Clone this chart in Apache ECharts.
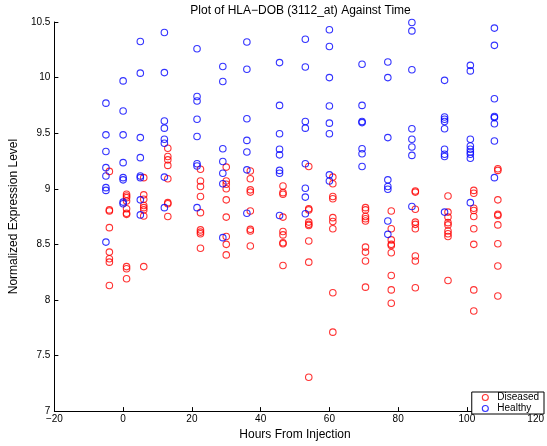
<!DOCTYPE html>
<html>
<head>
<meta charset="utf-8">
<script src="https://cdn.jsdelivr.net/npm/echarts@6/dist/echarts.min.js"></script>
<style>
  html, body { margin: 0; padding: 0; background: #fff; }
  #chart { width: 547px; height: 446px; }
</style>
</head>
<body>
<div id="chart"></div>
<script>
// hours of each sampling column (diseased drawn one hour to the right)
var healthyHours = [-5, 0, 5, 12, 21.5, 29, 36, 45.5, 53, 60, 69.5, 77, 84, 93.5, 101, 108]
var diseasedHours = [-4, 1, 6, 13, 22.5, 30, 37, 46.5, 54, 61, 70.5, 78, 85, 94.5, 102, 109]

// expression levels per column
var healthyLevels = [
  [9.77, 9.485, 9.335, 9.19, 9.115, 9.01, 8.985, 8.52],
  [9.97, 9.70, 9.485, 9.235, 9.10, 9.08, 8.88, 8.865],
  [10.325, 10.04, 9.46, 9.28, 9.115, 9.10, 8.90, 8.765],
  [10.405, 10.045, 9.61, 9.545, 9.445, 9.41, 9.105, 8.83],
  [10.26, 9.83, 9.79, 9.625, 9.47, 9.225, 9.205, 8.83],
  [10.10, 9.965, 9.36, 9.245, 9.14, 9.045, 8.56],
  [10.32, 10.075, 9.63, 9.435, 9.33, 9.17, 8.78],
  [10.135, 9.75, 9.495, 9.355, 9.305, 9.165, 9.14, 8.76],
  [10.345, 10.095, 9.605, 9.545, 9.225, 9.005, 8.925, 8.775],
  [10.43, 10.28, 10.0, 9.745, 9.59, 9.495, 9.125, 9.07],
  [10.12, 9.75, 9.605, 9.595, 9.36, 9.315, 9.20],
  [10.14, 10.0, 9.46, 9.08, 9.02, 8.995, 8.71, 8.59],
  [10.495, 10.42, 10.07, 9.54, 9.445, 9.375, 9.30, 8.84],
  [9.975, 9.645, 9.625, 9.605, 9.54, 9.355, 9.31, 9.29, 8.79],
  [10.11, 10.06, 9.445, 9.385, 9.355, 9.33, 9.31, 9.275, 8.875],
  [10.445, 10.29, 9.81, 9.65, 9.64, 9.585, 9.43, 9.10]
]
var diseasedLevels = [
  [9.156, 8.81, 8.80, 8.65, 8.43, 8.37, 8.34, 8.13],
  [8.95, 8.935, 8.92, 8.89, 8.82, 8.78, 8.77, 8.30, 8.28, 8.19],
  [9.10, 8.945, 8.905, 8.85, 8.83, 8.81, 8.755, 8.30],
  [9.365, 9.29, 9.26, 9.21, 9.09, 8.875, 8.865, 8.75],
  [9.175, 9.07, 9.02, 8.93, 8.785, 8.63, 8.61, 8.595, 8.465],
  [9.195, 9.07, 9.04, 9.0, 8.90, 8.745, 8.57, 8.50, 8.405],
  [9.16, 9.09, 8.99, 8.97, 8.80, 8.635, 8.62, 8.485],
  [9.025, 8.965, 8.95, 8.745, 8.615, 8.585, 8.515, 8.505, 8.31],
  [9.20, 8.82, 8.81, 8.70, 8.68, 8.67, 8.53, 8.34, 7.305],
  [9.105, 9.045, 8.93, 8.91, 8.74, 8.705, 8.64, 8.065, 7.71],
  [8.83, 8.81, 8.75, 8.73, 8.71, 8.475, 8.43, 8.35, 8.115],
  [8.80, 8.64, 8.54, 8.50, 8.49, 8.425, 8.22, 8.09, 7.97],
  [8.98, 8.97, 8.815, 8.70, 8.68, 8.64, 8.395, 8.35, 8.11],
  [8.935, 8.79, 8.745, 8.695, 8.675, 8.62, 8.595, 8.57, 8.175],
  [8.985, 8.96, 8.825, 8.805, 8.75, 8.64, 8.50, 8.09, 7.90],
  [9.18, 9.165, 8.90, 8.77, 8.76, 8.675, 8.505, 8.305, 8.035]
]

var font = 'Liberation Sans, Arial, Helvetica, sans-serif'

function toPoints(hours, levels) {
  var pts = []
  hours.forEach(function (h, i) {
    levels[i].forEach(function (v) { pts.push([h, v]) })
  })
  return pts
}

function yLabel(v) {
  return String(Math.round(v * 10) / 10)
}

// open circle marker, thin outline like the original
function ring(color) {
  return { color: 'rgba(255,255,255,0)', borderColor: color, borderWidth: 1.1 }
}

var chart = echarts.init(document.getElementById('chart'))
chart.setOption({
  backgroundColor: '#fff',
  animation: false,
  title: {
    text: 'Plot of HLA\u2212DOB (3112_at) Against Time',
    left: 295.5,
    textAlign: 'center',
    top: 0,
    textStyle: { fontFamily: font, fontSize: 12, fontWeight: 'normal', color: '#000' }
  },
  grid: { left: 47, right: 3, top: 22, bottom: 27, containLabel: false },
  legend: {
    data: ['Diseased', 'Healthy'],
    orient: 'vertical',
    right: 3,
    bottom: 32,
    itemWidth: 14,
    itemHeight: 6,
    itemGap: 0,
    padding: [0, 5, 0, 10],
    backgroundColor: '#fff',
    borderColor: '#000',
    borderWidth: 1,
    borderRadius: 0,
    itemStyle: { borderWidth: 1.1 },
    textStyle: { fontFamily: font, fontSize: 10, lineHeight: 11, color: '#000' }
  },
  xAxis: {
    type: 'value',
    min: -20,
    max: 120,
    interval: 20,
    name: 'Hours From Injection',
    nameLocation: 'middle',
    nameGap: 13,
    nameTextStyle: { fontFamily: font, fontSize: 12, color: '#000' },
    axisLine: { onZero: false, lineStyle: { color: '#000', width: 1 } },
    axisTick: { inside: true, length: 4, lineStyle: { color: '#000' } },
    axisLabel: {
      fontFamily: font, fontSize: 10, color: '#000', margin: 3,
      formatter: function (v) { return String(v).replace('-', '\u2212') }
    },
    splitLine: { show: false }
  },
  yAxis: {
    type: 'value',
    min: 7,
    max: 10.5,
    interval: 0.5,
    name: 'Normalized Expression Level',
    nameLocation: 'middle',
    nameGap: 27,
    nameTextStyle: { fontFamily: font, fontSize: 12, color: '#000' },
    axisLine: { show: true, onZero: false, lineStyle: { color: '#000', width: 1 } },
    axisTick: { show: true, inside: true, length: 4, lineStyle: { color: '#000' } },
    axisLabel: { fontFamily: font, fontSize: 10, color: '#000', margin: 4, formatter: yLabel },
    splitLine: { show: false }
  },
  series: [
    {
      name: 'Diseased',
      type: 'scatter',
      symbol: 'circle',
      symbolSize: 6.5,
      itemStyle: ring('#ff0000'),
      data: toPoints(diseasedHours, diseasedLevels)
    },
    {
      name: 'Healthy',
      type: 'scatter',
      symbol: 'circle',
      symbolSize: 6.5,
      itemStyle: ring('#0000ff'),
      data: toPoints(healthyHours, healthyLevels)
    }
  ]
})
</script>
</body>
</html>
